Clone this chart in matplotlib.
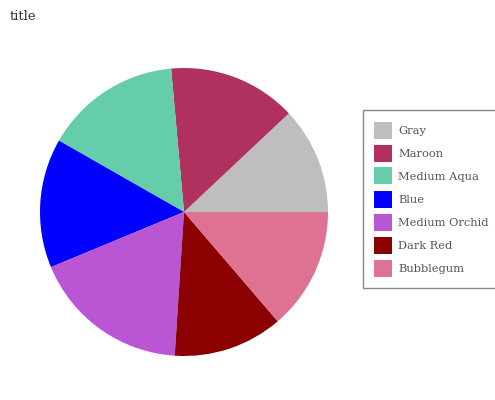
import matplotlib
matplotlib.use("Agg")
import matplotlib.pyplot as plt
from matplotlib.patches import Rectangle

# slice data
labels = ["Gray", "Maroon", "Medium Aqua", "Blue", "Medium Orchid", "Dark Red", "Bubblegum"]
values = [12.0, 14.4, 15.3, 14.5, 17.7, 12.3, 13.7]
colors = ["#bebebe", "#b03060", "#66cdaa", "#0000ff", "#ba55d3", "#8b0000", "#de7293"]

fig = plt.figure(figsize=(4.95, 4.0), dpi=100)
W, H = 495, 400

# pie centred at (184, 212) px, radius 144 px
cx, cy, r = 184, 212, 144
ax = fig.add_axes([(cx - r) / W, (H - cy - r) / H, 2 * r / W, 2 * r / H])
ax.pie(values, colors=colors, startangle=0, counterclock=True,
       wedgeprops=dict(linewidth=0))
ax.set_xlim(-1, 1)
ax.set_ylim(-1, 1)
ax.axis("off")

fig.text(10 / W, 1 - 17 / H, "title", family="DejaVu Serif", fontsize=9.5,
         color="#333333", va="center", ha="left")

# legend drawn by hand in pixel coords (frame runs off the right edge)
def px(x, y):
    return x / W, 1 - y / H

fx, fy = px(363, 288)
fig.patches.append(Rectangle((fx, fy), (140) / W, 178 / H, transform=fig.transFigure,
                             facecolor="white", edgecolor="#888888", linewidth=1.0))
for i, (lab, col) in enumerate(zip(labels, colors)):
    yc = 130 + 23 * i
    sx, sy = px(374, yc + 8.5)
    fig.patches.append(Rectangle((sx, sy), 18 / W, 17 / H, transform=fig.transFigure,
                                 facecolor=col, edgecolor="none"))
    tx, ty = px(398, yc)
    fig.text(tx, ty, lab, family="DejaVu Serif", fontsize=8.2, color="#555555",
             ha="left", va="center_baseline")

fig.savefig("out.png", dpi=100)
